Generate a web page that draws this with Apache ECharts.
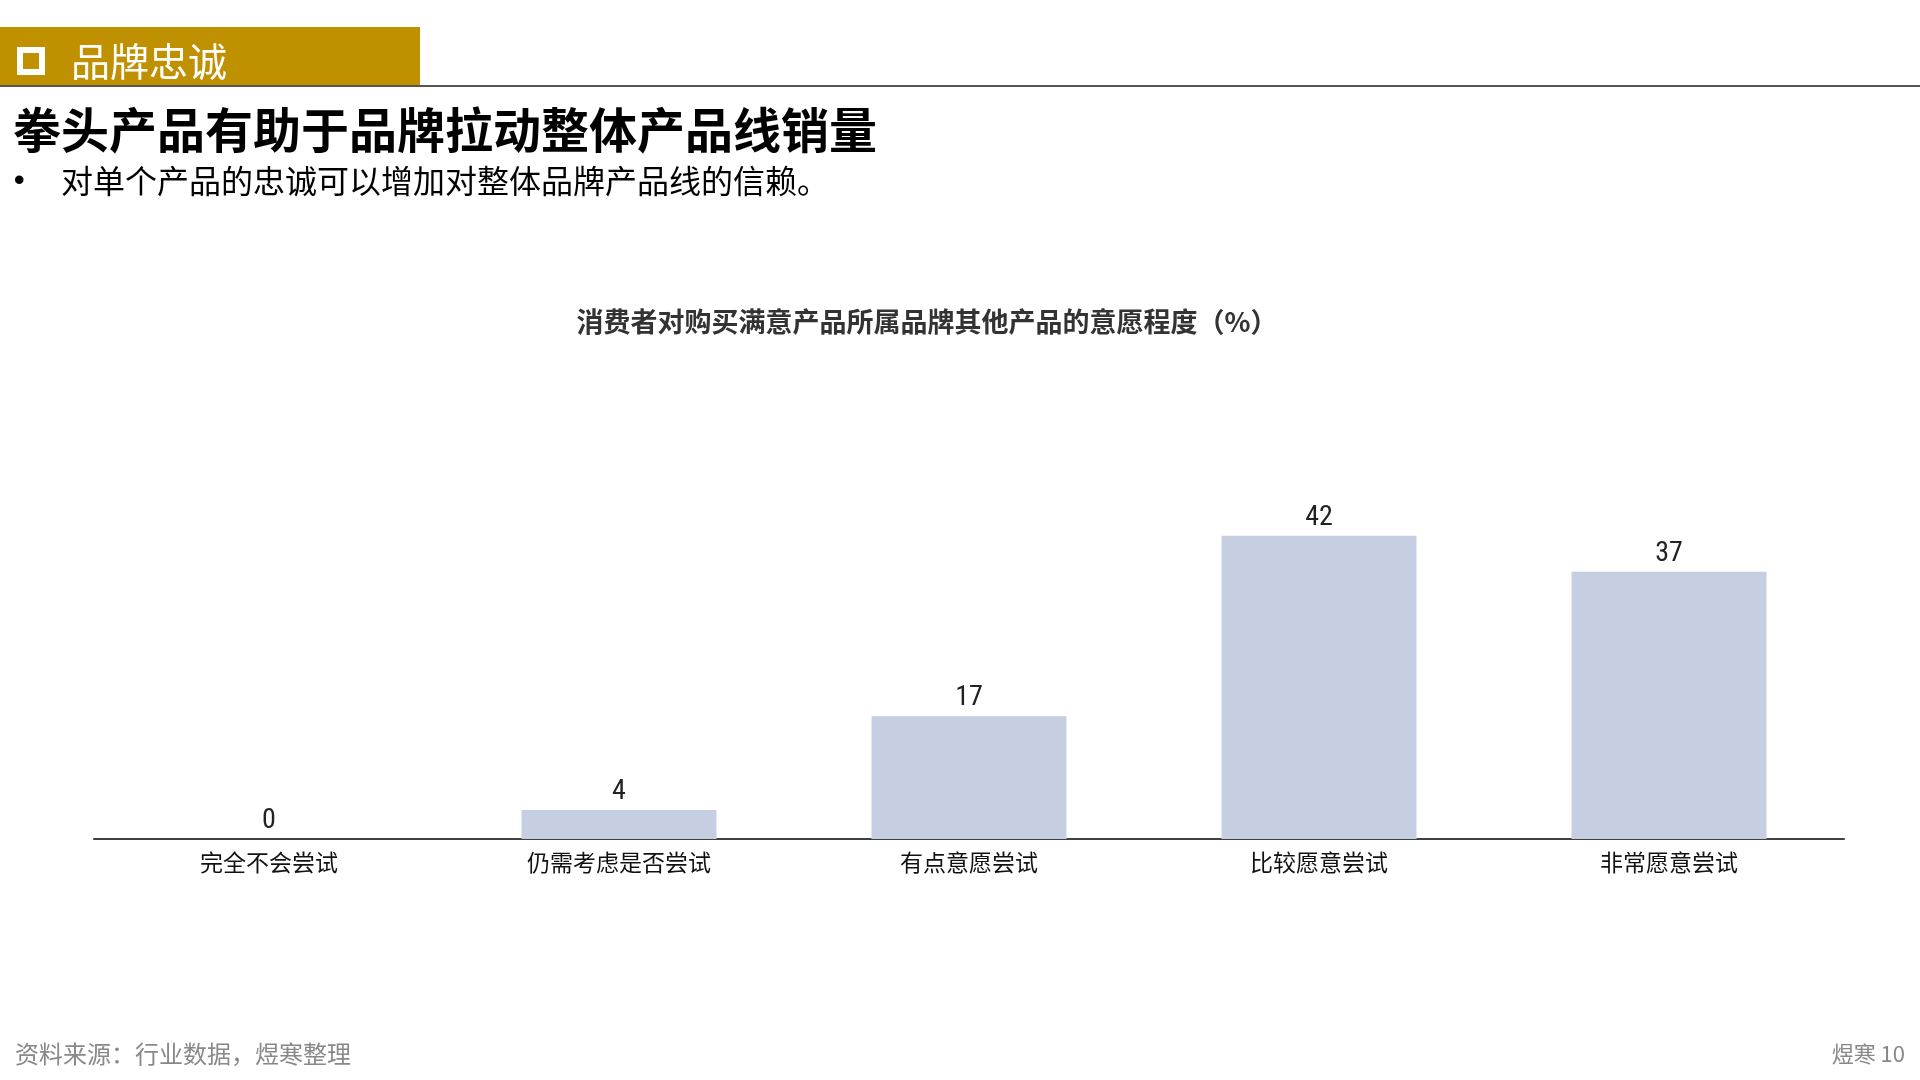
<!DOCTYPE html>
<html><head><meta charset="utf-8">
<script src="https://cdn.jsdelivr.net/npm/echarts@6/dist/echarts.min.js"></script>
<style>html,body{margin:0;padding:0;background:#fff}#c{width:1920px;height:1080px}</style>
</head><body><div id="c"></div>
<script>
var categories = ['完全不会尝试','仍需考虑是否尝试','有点意愿尝试','比较愿意尝试','非常愿意尝试'];
var values = [0, 4, 17, 42, 37];
var sectionTitle = '品牌忠诚';
var mainTitle = '拳头产品有助于品牌拉动整体产品线销量';
var bulletText = '对单个产品的忠诚可以增加对整体品牌产品线的信赖。';
var chartTitle = '消费者对购买满意产品所属品牌其他产品的意愿程度（%）';
var sourceText = '资料来源：行业数据，煜寒整理';
var pageText = '煜寒 10';

var cjk = '"Noto Sans CJK SC", "Noto Sans", sans-serif';
var chart = echarts.init(document.getElementById('c'));
chart.setOption({
  backgroundColor: '#fff',
  animation: false,
  title: {
    text: chartTitle, left: 922, top: 303, textAlign: 'center',
    textStyle: {fontFamily: cjk, fontSize: 27, fontWeight: 'bold', color: '#333'}
  },
  grid: {left: 94, right: 76, top: 478, bottom: 241, containLabel: false},
  xAxis: {
    type: 'category', data: categories,
    axisLine: {show: true, lineStyle: {color: '#404040', width: 2}},
    axisTick: {show: false},
    axisLabel: {fontFamily: cjk, fontSize: 23, color: '#111', margin: 12}
  },
  yAxis: {type: 'value', min: 0, max: 50, show: false, splitLine: {show: false}},
  series: [{
    type: 'bar', data: values, barWidth: 195,
    itemStyle: {color: '#C5CFE1'},
    label: {show: true, position: 'top', distance: 4, color: '#222', fontSize: 28,
            fontFamily: '"Liberation Sans Narrow", "Roboto Condensed", "Liberation Sans", sans-serif'}
  }],
  graphic: [
    {type: 'rect', shape: {x: 0, y: 27, width: 420, height: 59}, style: {fill: '#BF9000'}},
    {type: 'rect', shape: {x: 17, y: 47, width: 28, height: 28}, style: {fill: '#fff'}},
    {type: 'rect', shape: {x: 23, y: 53, width: 16, height: 16}, style: {fill: '#BF9000'}},
    {type: 'text', style: {x: 71, y: 61, verticalAlign: 'middle', text: sectionTitle, fill: '#fff', font: '39px ' + cjk}},
    {type: 'line', shape: {x1: 0, y1: 86, x2: 1920, y2: 86}, style: {stroke: '#555', lineWidth: 2}},
    {type: 'text', style: {x: 13, y: 130, verticalAlign: 'middle', text: mainTitle, fill: '#000', font: 'bold 48px ' + cjk}},
    {type: 'text', style: {x: 14, y: 182, verticalAlign: 'middle', text: '•', fill: '#000', font: 'bold 30px "Liberation Sans", sans-serif'}},
    {type: 'text', style: {x: 61, y: 181, verticalAlign: 'middle', text: bulletText, fill: '#000', font: '32px ' + cjk}},
    {type: 'text', style: {x: 15, y: 1054, verticalAlign: 'middle', text: sourceText, fill: '#888', font: '24px ' + cjk}},
    {type: 'text', style: {x: 1905, y: 1054, align: 'right', verticalAlign: 'middle', text: pageText, fill: '#888', font: '22px ' + cjk}}
  ]
});
</script></body></html>
